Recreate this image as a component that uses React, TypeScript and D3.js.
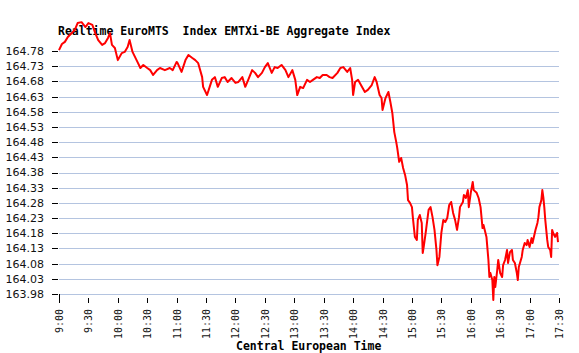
import { useMemo } from 'react';
import * as d3 from 'd3';

const title = 'Realtime EuroMTS  Index EMTXi-BE Aggregate Index';
const xTitle = 'Central European Time';

const xTickLabels = [
  '9:00', '9:30', '10:00', '10:30', '11:00', '11:30', '12:00', '12:30', '13:00',
  '13:30', '14:00', '14:30', '15:00', '15:30', '16:00', '16:30', '17:00', '17:30',
];

const yTicks = [
  163.98, 164.03, 164.08, 164.13, 164.18, 164.23, 164.28, 164.33, 164.38,
  164.43, 164.48, 164.53, 164.58, 164.63, 164.68, 164.73, 164.78,
];

const times = [
  '9:00', '9:03', '9:06', '9:09', '9:13', '9:16', '9:19', '9:23', '9:27', '9:30',
  '9:34', '9:37', '9:40', '9:44', '9:47', '9:50', '9:52', '9:54', '9:57', '10:00',
  '10:04', '10:07', '10:10', '10:12', '10:15', '10:20', '10:23', '10:26', '10:30', '10:33',
  '10:36', '10:40', '10:43', '10:48', '10:53', '10:56', '11:00', '11:01', '11:05', '11:09',
  '11:12', '11:16', '11:19', '11:22', '11:26', '11:27', '11:31', '11:32', '11:36', '11:39',
  '11:42', '11:46', '11:49', '11:52', '11:56', '12:00', '12:03', '12:07', '12:10', '12:13',
  '12:17', '12:20', '12:23', '12:27', '12:30', '12:33', '12:37', '12:40', '12:43', '12:47',
  '12:51', '12:54', '12:58', '13:01', '13:03', '13:06', '13:09', '13:13', '13:16', '13:19',
  '13:23', '13:26', '13:29', '13:33', '13:36', '13:39', '13:44', '13:47', '13:50', '13:54',
  '13:57', '13:59', '14:00', '14:02', '14:05', '14:09', '14:12', '14:15', '14:19', '14:22',
  '14:24', '14:27', '14:29', '14:30', '14:33', '14:36', '14:38', '14:40', '14:42', '14:44',
  '14:45', '14:47', '14:49', '14:51', '14:53', '14:55', '14:56', '14:58', '15:00', '15:01',
  '15:03', '15:05', '15:06', '15:08', '15:10', '15:11', '15:12', '15:14', '15:15', '15:17',
  '15:19', '15:21', '15:23', '15:25', '15:26', '15:28', '15:30', '15:32', '15:34', '15:36',
  '15:38', '15:40', '15:42', '15:44', '15:46', '15:48', '15:49', '15:52', '15:53', '15:55',
  '15:57', '15:58', '16:00', '16:02', '16:03', '16:06', '16:08', '16:10', '16:12', '16:13',
  '16:16', '16:18', '16:19', '16:20', '16:22', '16:23', '16:24', '16:25', '16:27', '16:28',
  '16:30', '16:32', '16:33', '16:35', '16:37', '16:38', '16:40', '16:42', '16:43', '16:45',
  '16:47', '16:48', '16:49', '16:52', '16:53', '16:55', '16:57', '16:58', '17:00', '17:02',
  '17:03', '17:06', '17:08', '17:09', '17:10', '17:12', '17:13', '17:14', '17:15', '17:16',
  '17:18', '17:19', '17:21', '17:22', '17:23', '17:24', '17:26', '17:28', '17:29',
];

const values = [
  164.783, 164.803, 164.810, 164.826, 164.839, 164.849, 164.872, 164.875, 164.859, 164.872,
  164.866, 164.839, 164.816, 164.800, 164.806, 164.823, 164.839, 164.800, 164.790, 164.750,
  164.773, 164.777, 164.793, 164.816, 164.777, 164.744, 164.724, 164.734, 164.724, 164.717,
  164.701, 164.717, 164.724, 164.717, 164.724, 164.717, 164.744, 164.740, 164.711, 164.750,
  164.767, 164.757, 164.750, 164.740, 164.694, 164.662, 164.635, 164.645, 164.685, 164.694,
  164.662, 164.691, 164.694, 164.678, 164.691, 164.675, 164.678, 164.694, 164.662, 164.685,
  164.717, 164.708, 164.694, 164.708, 164.727, 164.740, 164.708, 164.727, 164.724, 164.734,
  164.717, 164.694, 164.717, 164.685, 164.635, 164.662, 164.658, 164.685, 164.678, 164.685,
  164.694, 164.691, 164.701, 164.701, 164.694, 164.691, 164.708, 164.724, 164.727, 164.711,
  164.724, 164.685, 164.635, 164.678, 164.685, 164.662, 164.645, 164.652, 164.668, 164.694,
  164.678, 164.635, 164.625, 164.586, 164.625, 164.645, 164.612, 164.576, 164.513, 164.480,
  164.461, 164.415, 164.428, 164.395, 164.372, 164.339, 164.289, 164.280, 164.266, 164.230,
  164.168, 164.158, 164.224, 164.240, 164.214, 164.115, 164.135, 164.181, 164.207, 164.257,
  164.266, 164.233, 164.191, 164.125, 164.075, 164.102, 164.181, 164.224, 164.217, 164.230,
  164.273, 164.283, 164.247, 164.224, 164.191, 164.233, 164.266, 164.283, 164.306, 164.296,
  164.322, 164.266, 164.313, 164.349, 164.322, 164.313, 164.296, 164.266, 164.197, 164.207,
  164.168, 164.092, 164.036, 164.049, 164.026, 163.960, 164.036, 164.003, 164.059, 164.092,
  164.049, 164.036, 164.075, 164.092, 164.125, 164.082, 164.118, 164.125, 164.092, 164.082,
  164.049, 164.026, 164.069, 164.102, 164.125, 164.148, 164.141, 164.158, 164.135, 164.164,
  164.148, 164.191, 164.214, 164.233, 164.266, 164.289, 164.322, 164.299, 164.266, 164.224,
  164.158, 164.135, 164.125, 164.102, 164.191, 164.181, 164.168, 164.181, 164.151,
];

const WIDTH = 579;
const HEIGHT = 353;
const mono = '"DejaVu Sans Mono", "Liberation Mono", monospace';

// minutes since midnight from "H:MM"
const toMin = (s: string) => {
  const [h, m] = s.split(':').map(Number);
  return h * 60 + m;
};

export default function App() {
  const margin = { left: 59, right: 20, top: 51, bottom: 59 };
  const x = d3.scaleLinear()
    .domain([toMin(xTickLabels[0]), toMin(xTickLabels[xTickLabels.length - 1])])
    .range([margin.left, WIDTH - margin.right]);
  const y = d3.scaleLinear()
    .domain([yTicks[0], yTicks[yTicks.length - 1]])
    .range([HEIGHT - margin.bottom, margin.top]);

  const path = useMemo(() => {
    const line = d3.line<number>()
      .x((_, i) => x(toMin(times[i])))
      .y((d) => y(d));
    return line(values) ?? '';
  }, []);

  const y0 = y(yTicks[0]);

  return (
    <svg width={WIDTH} height={HEIGHT} style={{ position: 'absolute', left: 0, top: 0, background: '#fff' }}>
      {/* grid + y ticks */}
      {yTicks.map((t) => (
        <g key={t}>
          <line x1={x.range()[0]} x2={x.range()[1]} y1={Math.round(y(t)) + 0.5} y2={Math.round(y(t)) + 0.5} stroke="#b4c4e0" />
          <line x1={52} x2={58} y1={Math.round(y(t)) + 0.5} y2={Math.round(y(t)) + 0.5} stroke="#000" />
          <text x={44} y={y(t)} dy="0.36em" textAnchor="end" fontFamily='"DejaVu Sans", Verdana, sans-serif' fontSize={11} fill="#111">
            {t.toFixed(2)}
          </text>
        </g>
      ))}
      {/* x ticks */}
      {xTickLabels.map((lab, i) => {
        const px = Math.round(x(toMin(lab))) + 0.5;
        return (
          <g key={lab}>
            <line x1={px} x2={px} y1={i === 0 ? Math.round(y0) : y0 + 4} y2={y0 + 9} stroke="#000" />
            <text transform={`translate(${px + 3.5},${y0 + 15}) rotate(-90)`} textAnchor="end" fontFamily={mono} fontSize={10} fill="#111">
              {lab}
            </text>
          </g>
        );
      })}
      <text x={58} y={35} fontFamily={mono} fontWeight="bold" fontSize={11.5} fill="#000" style={{ whiteSpace: 'pre' }}>{title}</text>
      <text x={236} y={350} fontFamily={mono} fontWeight="bold" fontSize={11.5} fill="#000">{xTitle}</text>
      {/* the price line sits on top of the title, as in the source */}
      <path d={path} fill="none" stroke="#f00" strokeWidth={2} strokeLinejoin="round" />
    </svg>
  );
}
